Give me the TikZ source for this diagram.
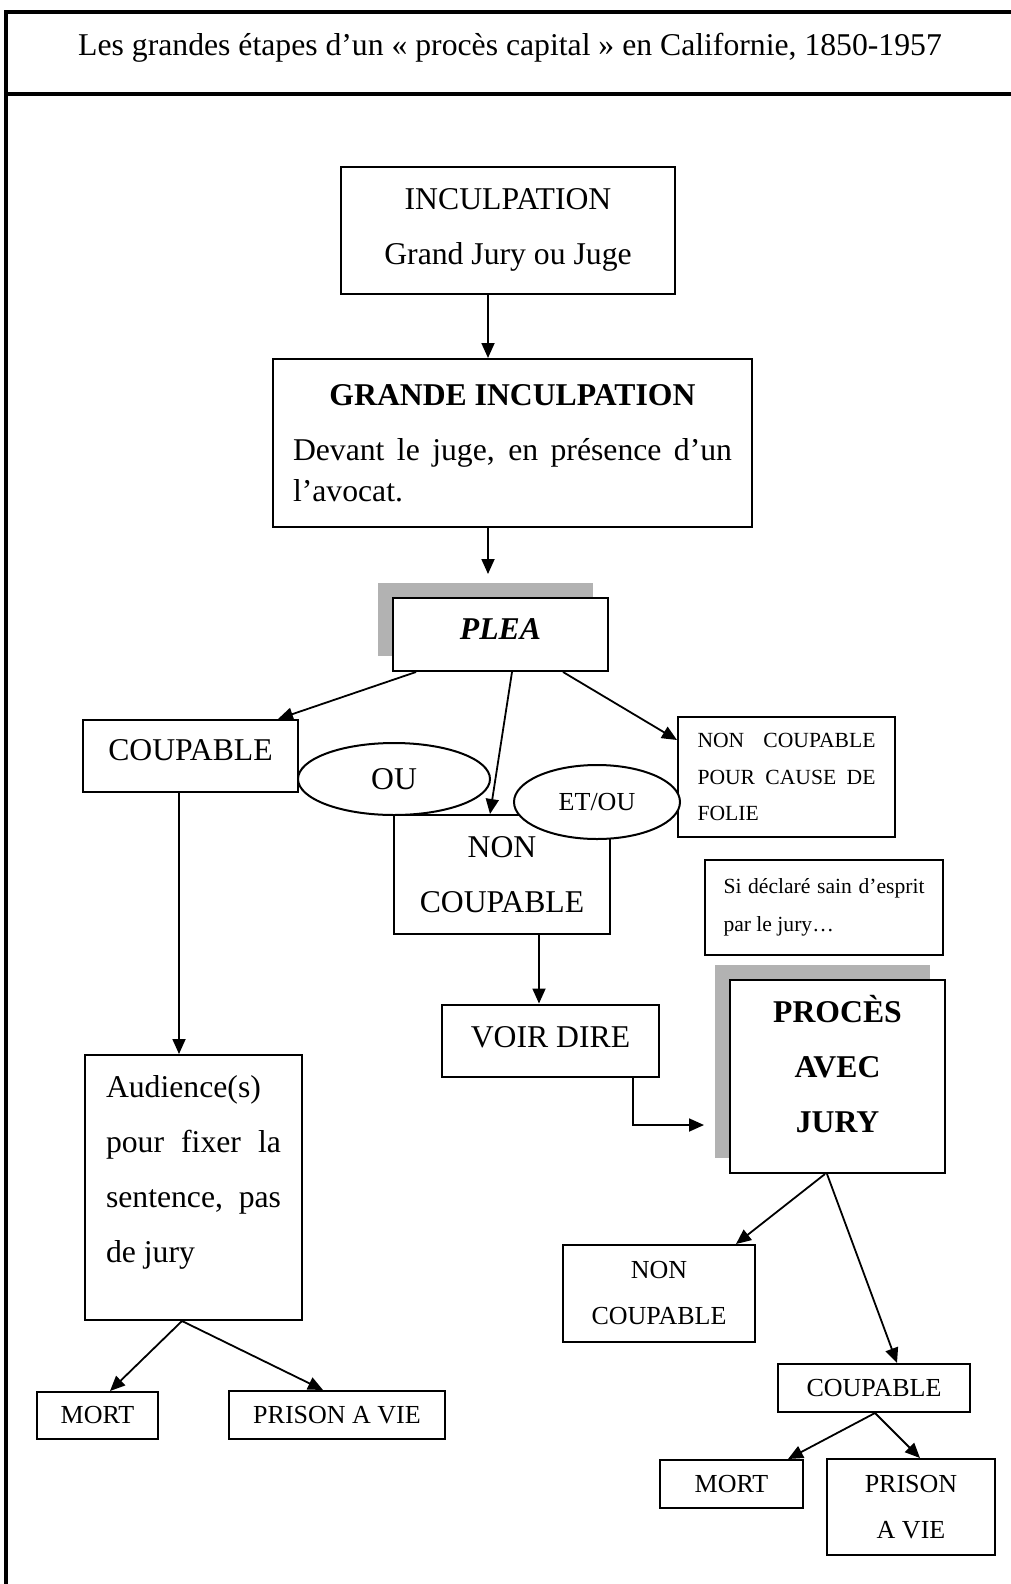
\documentclass[tikz,border=0pt]{standalone}
\usepackage{fontspec}
\setmainfont{Liberation Serif}
\usetikzlibrary{positioning,arrows.meta,shapes.geometric,shadows}

\begin{document}
\begin{tikzpicture}[x=1pt,y=-1pt,
    box/.style={draw, line width=2pt, fill=white, inner sep=0pt, font=\fontsize{31.7}{55}\selectfont},
    petit/.style={font=\fontsize{26}{46}\selectfont},
    mini/.style={font=\fontsize{21.6}{36.5}\selectfont},
    bulle/.style={draw, ellipse, line width=2pt, fill=white, inner sep=0pt},
    ombre/.style={drop shadow={shadow xshift=-15pt, shadow yshift=15pt, fill=black!30, opacity=1}},
    arr/.style={line width=1.8pt, -{Triangle[length=15pt,width=13pt]}}]

    \clip (0,0) rectangle (1011,1584);

    % cadre et titre
    \draw[line width=3.5pt] (6,12) rectangle (1040,1620);
    \draw[line width=3.5pt] (6,94) -- (1040,94);
    \node[anchor=base, font=\fontsize{31.7}{38}\selectfont] (titre) at (510,56)
        {Les grandes étapes d’un « procès capital » en Californie, 1850-1957};

    % haut
    \node[box, minimum width=334pt, minimum height=127pt, align=center] (incul) at (508,230)
        {INCULPATION\\Grand Jury ou Juge};
    \node[box, font=\fontsize{31.7}{41}\selectfont, minimum width=479pt, minimum height=168pt,
        text width=439pt, align=justify] (grand) at (512.5,443)
        {\makebox[439pt]{\bfseries GRANDE INCULPATION}\\[14pt]Devant le juge, en présence d’un l’avocat.};
    \node[box, ombre, minimum width=215pt, minimum height=73pt, text depth=10pt,
        font=\fontsize{31.7}{38}\selectfont\bfseries\itshape] (plea) at (500.5,634.5) {PLEA};

    % milieu
    \node[box, minimum width=215pt, minimum height=72pt, text depth=12pt] (coupA) at (190.5,756) {COUPABLE};
    \node[box, minimum width=216pt, minimum height=119pt, align=center] (noncA) at (502,874.5)
        {NON\\COUPABLE};
    \node[box, mini, minimum width=217pt, minimum height=120pt, text width=178pt, align=justify]
        (folie) at (786.5,777) {NON COUPABLE\linebreak POUR CAUSE DE\linebreak FOLIE};
    \node[box, font=\fontsize{21.6}{38}\selectfont, minimum width=238pt, minimum height=95pt,
        text width=201pt, align=justify] (sain) at (824,907.5)
        {Si déclaré sain d’esprit\linebreak par le jury…};
    \node[box, ombre, minimum width=215pt, minimum height=193pt, align=center, text depth=26pt,
        font=\fontsize{31.7}{55}\selectfont\bfseries] (proces) at (837.5,1076.5)
        {PROCÈS\\AVEC\\JURY};
    \node[box, minimum width=217pt, minimum height=72pt, text depth=7pt] (voir) at (550.5,1040.5) {VOIR DIRE};
    \node[box, minimum width=217pt, minimum height=265pt, text width=175pt, align=justify, text depth=202pt]
        (audi) at (193.5,1187.5)
        {Audience(s)\newline pour fixer la\linebreak sentence, pas\linebreak de jury};

    % bas
    \node[box, petit, minimum width=121pt, minimum height=47pt] (mortA) at (97.5,1415.5) {MORT};
    \node[box, petit, minimum width=216pt, minimum height=48pt] (prisonA) at (337,1415) {PRISON A VIE};
    \node[box, petit, minimum width=192pt, minimum height=97pt, align=center] (noncB) at (659,1293.5)
        {NON\\COUPABLE};
    \node[box, petit, minimum width=192pt, minimum height=48pt] (coupB) at (874,1388) {COUPABLE};
    \node[box, petit, minimum width=143pt, minimum height=48pt] (mortB) at (731.5,1484) {MORT};
    \node[box, petit, minimum width=168pt, minimum height=96pt, align=center] (prisonB) at (911,1507)
        {PRISON\\A VIE};

    % fleches
    \draw[arr] (incul.south -| 488,0) -- (grand.north -| 488,0);
    \draw[arr, shorten >=23pt] (grand.south -| 488,0) -- (plea.north -| 488,0);
    \draw[arr] ([xshift=24pt]plea.south west) -- ([xshift=-21pt]coupA.north east);
    \draw[arr] ([xshift=11.5pt]plea.south) -- ([xshift=-12pt]noncA.north);
    \draw[arr] ([xshift=-46pt]plea.south east) -- ([yshift=37pt]folie.west);
    \draw[arr] (coupA.south -| 179,0) -- (audi.north -| 179,0);
    \draw[arr] (noncA.south -| 539,0) -- (voir.north -| 539,0);
    \draw[arr, shorten >=25pt] (voir.south -| 633,0) |- (proces.west |- 0,1125);
    \draw[arr] ([xshift=-11.5pt]audi.south) -- ([xshift=12.5pt]mortA.north);
    \draw[arr] ([xshift=-11.5pt]audi.south) -- ([xshift=-14pt]prisonA.north);
    \draw[arr] ([xshift=-12.5pt]proces.south) -- ([xshift=-20pt]noncB.north east);
    \draw[arr] ([xshift=-10.5pt]proces.south) -- ([xshift=23pt]coupB.north);
    \draw[arr] ([xshift=1pt]coupB.south) -- ([xshift=-16pt]mortB.north east);
    \draw[arr] ([xshift=1pt]coupB.south) -- ([xshift=9pt]prisonB.north);

    % ou / et-ou
    \node[bulle, minimum width=192pt, minimum height=72pt, font=\fontsize{31.7}{38}\selectfont]
        (ou) at (394,779) {OU};
    \node[bulle, minimum width=166pt, minimum height=74pt, font=\fontsize{26}{30}\selectfont]
        (etou) at (597,802) {ET/OU};

\end{tikzpicture}
\end{document}
